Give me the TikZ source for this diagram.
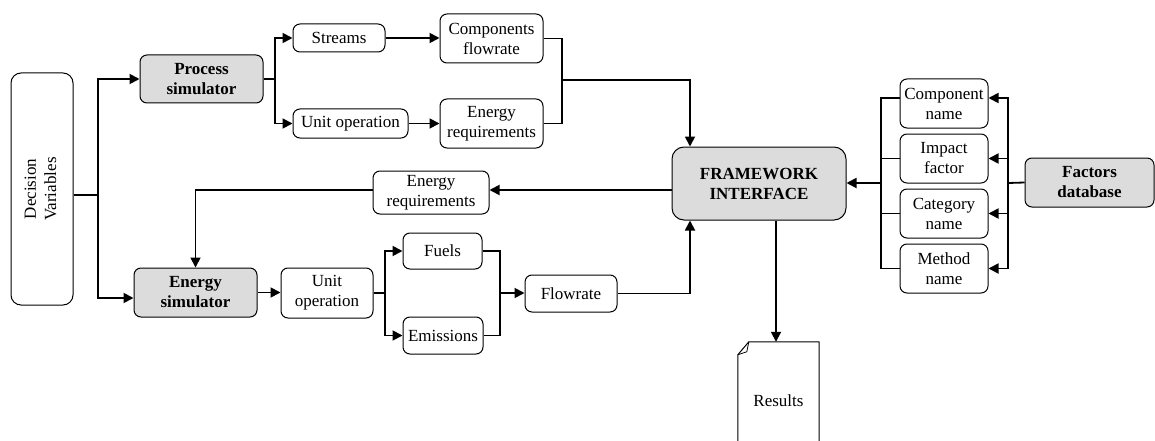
\documentclass[tikz,border=0pt]{standalone}
\usepackage{fontspec}
\usepackage{graphicx}
\setmainfont{Liberation Serif}
\newfontfamily\tnr{Liberation Serif}
\usetikzlibrary{arrows.meta}
\definecolor{boxgray}{RGB}{220,220,220}
\tikzset{
  box/.style={draw, line width=1pt, rounded corners=7pt, align=center, inner sep=0pt,
    font=\tnr\fontsize{17}{20}\selectfont},
  gbox/.style={box, fill=boxgray, font=\tnr\fontsize{17}{20}\selectfont\bfseries},
  sz/.style 2 args={minimum width=#1pt, minimum height=#2pt},
  conn/.style={line width=1.8pt},
  arr/.style={conn, -{Triangle[length=10pt,width=10pt]}},
}
\begin{document}
\begin{tikzpicture}[x=1pt,y=-1pt]
\useasboundingbox (0,0) rectangle (1155,441);
% nodes
\node[box, rounded corners=10pt, sz={62}{232}] (dv) at (42,189)
  {\rotatebox{90}{\begin{tabular}{@{}c@{}}Decision\\Variables\end{tabular}}};
\node[gbox, sz={123}{48}] (ps) at (201.5,79) {Process\\simulator};
\node[gbox, sz={123}{49}] (es) at (195.5,292.5) {Energy\\simulator};
\node[box, sz={92}{28}] (st) at (339,38) {Streams};
\node[box, sz={103}{49}] (cf) at (491.5,38.5) {Components\\flowrate};
\node[box, sz={115}{29}] (uo1) at (350.5,123.5) {Unit operation};
\node[box, sz={103}{49}] (er1) at (491.5,123.5) {Energy\\requirements};
\node[gbox, rounded corners=12pt, sz={174}{73}] (fw) at (759,183.5) {FRAMEWORK\\INTERFACE};
\node[box, sz={116}{43}] (er2) at (431,192.5) {Energy\\requirements};
\node[box, sz={92}{50}] (uo2) at (327,293) {Unit\\operation};
\node[box, sz={79}{36}] (fu) at (442.5,251) {Fuels};
\node[box, sz={80}{37}] (em) at (443,335.5) {Emissions};
\node[box, sz={92}{37}] (fl) at (571,293.5) {Flowrate};
\node[box, sz={88}{49}] (cn) at (944,103.5) {Component\\name};
\node[box, sz={88}{49}] (if) at (944,158.5) {Impact\\factor};
\node[box, sz={88}{49}] (ca) at (944,213.5) {Category\\name};
\node[box, sz={88}{49}] (mn) at (944,268.5) {Method\\name};
\node[gbox, sz={129}{49}] (fd) at (1089.5,182.5) {Factors\\database};
\node[inner sep=0pt, sz={81}{118}, font=\tnr\fontsize{17}{20}\selectfont] (res) at (778.5,401) {Results};
% results document shape
\draw[line width=1pt, line join=round]
  (res.north west |- 0,441) -- ([yshift=-13pt]res.north west)
  -- ([xshift=11pt]res.north west) -- (res.north east) -- (res.north east |- 0,441);
\draw[line width=0.8pt, line join=round]
  ([xshift=11pt]res.north west) -- ([xshift=9pt,yshift=-10pt]res.north west)
  -- ([yshift=-13pt]res.north west);
% connectors: decision variables
\coordinate (j1) at (98,195);
\draw[conn] (dv.east |- j1) -- (j1);
\draw[arr] (j1) |- (ps.west);
\draw[arr] (j1) |- ([yshift=-5.5pt]es.west);
% process simulator branch
\coordinate (j2) at (275,79);
\draw[conn] (ps.east) -- (j2);
\draw[arr] (j2) |- (st.west);
\draw[arr] (j2) |- (uo1.west);
\draw[arr] (st.east) -- (st.east -| cf.west);
\draw[arr] (uo1.east) -- (er1.west);
\coordinate (j3) at (562,80);
\draw[conn] (cf.east) -| (j3);
\draw[conn] (er1.east) -| (j3);
\draw[arr] (j3) -| ([xshift=-69pt]fw.north);
% energy requirements back to energy simulator
\draw[arr] ([yshift=-6.5pt]fw.west) -- ([yshift=-6.5pt]fw.west -| er2.east);
\draw[arr] ([yshift=-6.5pt]fw.west -| er2.west) -| (es.north);
% energy simulator branch
\draw[arr] (es.east) -- (es.east -| uo2.west);
\coordinate (j4) at (385,293);
\draw[conn] (uo2.east) -- (j4);
\draw[arr] (j4) |- (fu.west);
\draw[arr] (j4) |- (em.west);
\coordinate (j5) at (500,293);
\draw[conn] (fu.east) -| (j5);
\draw[conn] (em.east) -| (j5);
\draw[arr] (j5) -- (j5 -| fl.west);
\draw[arr] (fl.east) -| ([xshift=-69pt]fw.south);
% results
\draw[arr] ([xshift=17pt]fw.south) -- ([xshift=17pt]fw.south |- res.north);
% factors database
\coordinate (j6) at (1008,183);
\draw[conn] (fd.west) -- (j6);
\draw[arr] (j6) |- ([yshift=5.5pt]cn.east);
\draw[arr] (j6) |- (if.east);
\draw[arr] (j6) |- (ca.east);
\draw[arr] (j6) |- (mn.east);
\coordinate (j7) at (881,183);
\draw[conn] ([yshift=5.5pt]cn.west) -| (j7);
\draw[conn] (if.west) -| (j7);
\draw[conn] (ca.west) -| (j7);
\draw[conn] (mn.west) -| (j7);
\draw[arr] (j7) -- (j7 -| fw.east);
\end{tikzpicture}
\end{document}
